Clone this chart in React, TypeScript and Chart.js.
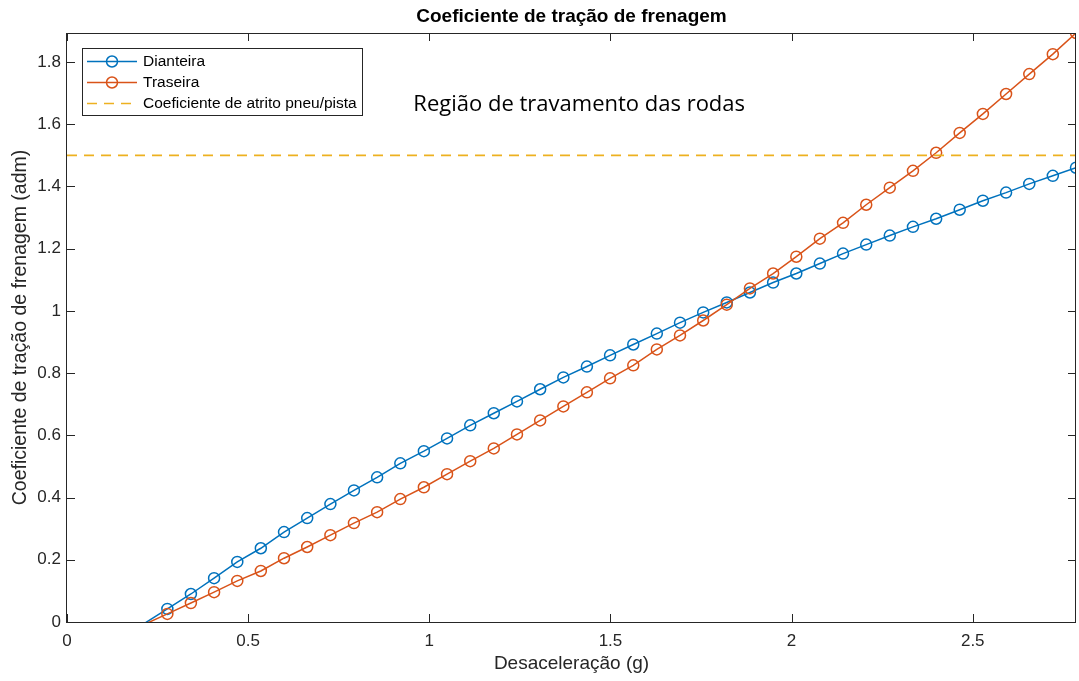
import React, { useEffect, useRef } from "react";
import { Chart, registerables } from "chart.js";

Chart.register(...registerables);

// ---------------- data ----------------
const decel = [
  0.213, 0.277, 0.342, 0.406, 0.47, 0.535, 0.599, 0.663, 0.727, 0.792,
  0.856, 0.92, 0.985, 1.049, 1.113, 1.178, 1.242, 1.306, 1.37, 1.435,
  1.499, 1.563, 1.628, 1.692, 1.756, 1.821, 1.885, 1.949, 2.013, 2.078,
  2.142, 2.206, 2.271, 2.335, 2.399, 2.464, 2.528, 2.592, 2.656, 2.721,
  2.785,
];

const dianteira = [
  -0.005, 0.042, 0.09, 0.141, 0.193, 0.237, 0.289, 0.334, 0.379, 0.423,
  0.465, 0.51, 0.549, 0.59, 0.632, 0.671, 0.709, 0.748, 0.786, 0.821,
  0.857, 0.892, 0.927, 0.962, 0.995, 1.027, 1.059, 1.091, 1.12, 1.152,
  1.184, 1.213, 1.242, 1.27, 1.296, 1.325, 1.354, 1.38, 1.408, 1.434,
  1.46,
];

const traseira = [
  -0.008, 0.026, 0.061, 0.096, 0.132, 0.164, 0.205, 0.241, 0.279, 0.318,
  0.353, 0.395, 0.433, 0.475, 0.517, 0.558, 0.603, 0.648, 0.693, 0.738,
  0.783, 0.825, 0.876, 0.921, 0.969, 1.02, 1.072, 1.12, 1.174, 1.232,
  1.283, 1.341, 1.396, 1.45, 1.508, 1.572, 1.633, 1.697, 1.761, 1.825,
  1.893,
];

const atritoX = [0, 2.785];
const atritoY = [1.5, 1.5];

const xTicks = [0, 0.5, 1, 1.5, 2, 2.5];
const yTicks = [0, 0.2, 0.4, 0.6, 0.8, 1, 1.2, 1.4, 1.6, 1.8];

const seriesNames = ["Dianteira", "Traseira", "Coeficiente de atrito pneu/pista"];
const chartTitle = "Coeficiente de tração de frenagem";
const xLabel = "Desaceleração (g)";
const yLabel = "Coeficiente de tração de frenagem (adm)";
const annotationText = "Região de travamento das rodas";

// ---------------- style ----------------
const BLUE = "#0072BD";
const ORANGE = "#D95319";
const YELLOW = "#EDB120";
const AXIS = "#262626";
const FONT = '"Liberation Sans", Arial, sans-serif';

const decorPlugin = {
  id: "matlabDecor",
  afterDraw(chart: any) {
    const { ctx, chartArea } = chart;
    const xs = chart.scales.x;
    const ys = chart.scales.y;
    const { left, right, top, bottom } = chartArea;
    ctx.save();

    // title
    ctx.fillStyle = "#000";
    ctx.font = `bold 19px ${FONT}`;
    ctx.textAlign = "center";
    ctx.textBaseline = "middle";
    ctx.fillText(chartTitle, (left + right) / 2, 17);

    // box
    ctx.strokeStyle = AXIS;
    ctx.lineWidth = 1;
    ctx.setLineDash([]);
    ctx.strokeRect(Math.round(left) - 0.5, Math.round(top) + 0.5, Math.round(right - left), Math.round(bottom - top));

    // inward ticks
    const TL = 8;
    ctx.beginPath();
    xs.ticks.forEach((t: any) => {
      const px = Math.round(xs.getPixelForValue(t.value)) + 0.5;
      ctx.moveTo(px, bottom);
      ctx.lineTo(px, bottom - TL);
      ctx.moveTo(px, top);
      ctx.lineTo(px, top + TL);
    });
    ys.ticks.forEach((t: any) => {
      const py = Math.round(ys.getPixelForValue(t.value)) + 0.5;
      ctx.moveTo(left, py);
      ctx.lineTo(left + TL, py);
      ctx.moveTo(right, py);
      ctx.lineTo(right - TL, py);
    });
    ctx.stroke();

    // annotation text
    ctx.fillStyle = "#000";
    ctx.font = `22px "Open Sans", "Noto Sans", sans-serif`;
    ctx.textAlign = "left";
    ctx.textBaseline = "alphabetic";
    ctx.fillText(annotationText, xs.getPixelForValue(0.956), ys.getPixelForValue(1.643));

    // legend
    const lx = 82, ly = 48, lw = 280, lh = 67;
    ctx.fillStyle = "#fff";
    ctx.fillRect(lx, ly, lw, lh);
    ctx.strokeStyle = AXIS;
    ctx.strokeRect(lx + 0.5, ly + 0.5, lw, lh);
    const rows = [61.5, 82.5, 103.5];
    const colors = [BLUE, ORANGE, YELLOW];
    ctx.font = `15.5px ${FONT}`;
    ctx.textBaseline = "middle";
    rows.forEach((ry, i) => {
      ctx.strokeStyle = colors[i];
      ctx.lineWidth = 1.5;
      if (i === 2) ctx.setLineDash([10, 7]);
      else ctx.setLineDash([]);
      ctx.beginPath();
      ctx.moveTo(87, ry);
      ctx.lineTo(137, ry);
      ctx.stroke();
      ctx.setLineDash([]);
      if (i < 2) {
        ctx.beginPath();
        ctx.arc(112, ry, 5.5, 0, Math.PI * 2);
        ctx.stroke();
      }
      ctx.fillStyle = "#000";
      ctx.fillText(seriesNames[i], 143, ry);
    });

    ctx.restore();
  },
};

const zeroPad = (s: any) => {
  s.paddingLeft = 0;
  s.paddingRight = 0;
  s.paddingTop = 0;
  s.paddingBottom = 0;
};

export default function App() {
  const canvasRef = useRef<HTMLCanvasElement | null>(null);

  useEffect(() => {
    if (!canvasRef.current) return;
    const radius = (c: any) => (c.raw && c.raw.y < 0 ? 0 : 5.5);
    const chart = new Chart(canvasRef.current, {
      type: "line",
      data: {
        datasets: [
          {
            label: seriesNames[0],
            data: decel.map((x, i) => ({ x, y: dianteira[i] })),
            borderColor: BLUE,
            borderWidth: 1.5,
            pointRadius: radius,
            pointBorderColor: BLUE,
            pointBackgroundColor: "rgba(0,0,0,0)",
            pointBorderWidth: 1.5,
            tension: 0,
            order: 2,
          },
          {
            label: seriesNames[1],
            data: decel.map((x, i) => ({ x, y: traseira[i] })),
            borderColor: ORANGE,
            borderWidth: 1.5,
            pointRadius: radius,
            pointBorderColor: ORANGE,
            pointBackgroundColor: "rgba(0,0,0,0)",
            pointBorderWidth: 1.5,
            tension: 0,
            order: 1,
          },
          {
            label: seriesNames[2],
            data: atritoX.map((x, i) => ({ x, y: atritoY[i] })),
            borderColor: YELLOW,
            borderWidth: 1.8,
            borderDash: [10, 7],
            pointRadius: 0,
            order: 0,
          },
        ],
      },
      options: {
        animation: false,
        responsive: true,
        maintainAspectRatio: false,
        layout: { autoPadding: false, padding: { top: 33, right: 3, bottom: 0, left: 0 } },
        plugins: {
          legend: { display: false },
          tooltip: { enabled: false },
          title: { display: false },
        },
        scales: {
          x: {
            type: "linear",
            min: 0,
            max: decel[decel.length - 1],
            afterBuildTicks: (s: any) => {
              s.ticks = xTicks.map((v) => ({ value: v }));
            },
            afterFit: (s: any) => {
              s.height = 59;
              zeroPad(s);
            },
            grid: { display: false, drawTicks: false },
            border: { display: false },
            ticks: {
              color: AXIS,
              font: { family: FONT, size: 17 },
              padding: 9,
              maxRotation: 0,
              callback: (v: any) => String(v),
            },
            title: {
              display: true,
              text: xLabel,
              color: AXIS,
              font: { family: FONT, size: 19 },
              padding: { top: 0, bottom: 6 },
            },
          },
          y: {
            type: "linear",
            min: 0,
            max: Math.max(...traseira),
            afterBuildTicks: (s: any) => {
              s.ticks = yTicks.map((v) => ({ value: v }));
            },
            afterFit: (s: any) => {
              s.width = 67;
              zeroPad(s);
            },
            grid: { display: false, drawTicks: false },
            border: { display: false },
            ticks: {
              color: AXIS,
              font: { family: FONT, size: 17 },
              padding: 6,
              callback: (v: any) => String(v),
            },
            title: {
              display: true,
              text: yLabel,
              color: AXIS,
              font: { family: FONT, size: 19.5 },
              padding: { top: 9, bottom: 0 },
            },
          },
        },
      },
      plugins: [decorPlugin],
    } as any);
    return () => chart.destroy();
  }, []);

  return (
    <div style={{ position: "absolute", left: 0, top: 0, width: 1079, height: 681, background: "#fff" }}>
      <canvas ref={canvasRef} />
    </div>
  );
}
